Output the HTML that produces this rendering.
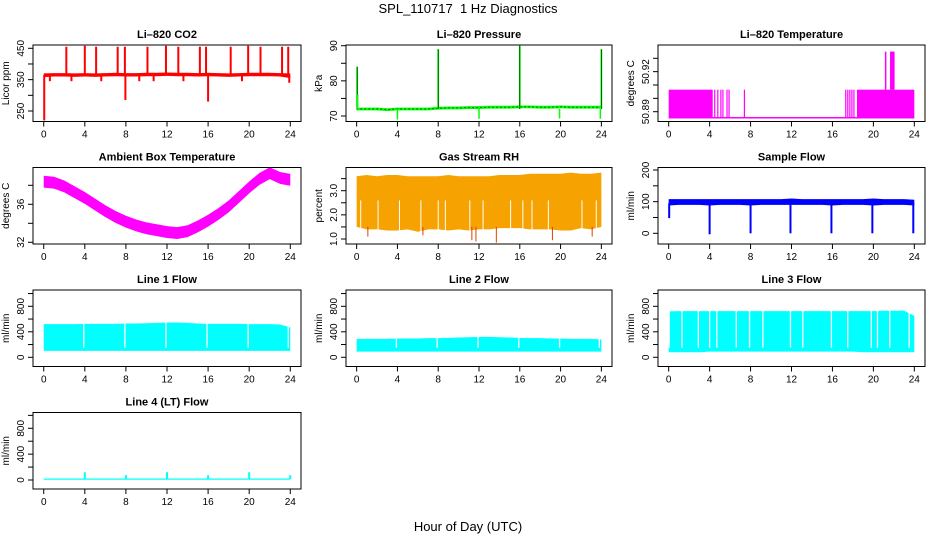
<!DOCTYPE html>
<html><head><meta charset="utf-8"><style>
html,body{margin:0;padding:0;background:#fff;}
svg{display:block;font-family:"Liberation Sans",Arial,sans-serif;}
</style></head><body>
<svg id="c" width="936" height="540" viewBox="0 0 936 540">
<text x="468" y="13" font-size="13" text-anchor="middle">SPL_110717&#160; 1 Hz Diagnostics</text>
<text x="468" y="531" font-size="13" text-anchor="middle">Hour of Day (UTC)</text>
</svg>
<script>
// ---- data ----
const hours = [0,1,2,3,4,5,6,7,8,9,10,11,12,13,14,15,16,17,18,19,20,21,22,23,24];
const xTicks = [0,4,8,12,16,20,24];
// CO2
const co2Low  = [358,360,360,359,360,359,360,361,360,360,361,361,362,361,361,360,361,360,359,360,361,361,361,360,355];
const co2High = [370,371,371,370,371,370,371,372,371,371,372,372,373,372,372,371,372,371,370,371,372,372,372,371,370];
const co2SpikeT = [2.2,4.0,5.1,7.2,7.9,10.1,11.9,13.1,15.2,15.8,18.2,19.9,21.1,23.2,23.8];
const co2SpikeV = [455,458,455,455,455,455,458,455,455,455,455,458,455,455,455];
const co2DipT = [0.05,7.95,16.0,0.6,2.7,5.6,9.3,10.7,13.6,19.3,23.9];
const co2DipV = [220,285,280,345,345,345,345,345,345,345,340];
const co2Ticks = [250,300,350,400,450];
const co2Labels = ["250","","350","","450"];
// Pressure
const presBase = [72,72,72,71.8,72,72,72,72,72.2,72.3,72.3,72.4,72.4,72.5,72.5,72.5,72.6,72.6,72.5,72.5,72.6,72.5,72.5,72.5,72.5];
const presSpikeT = [0.05,8.0,16.0,24.0];
const presSpikeV = [84,89,90,89];
const presDipT = [4.0,12.0,19.9,23.9,0.1];
const presDipV = [69,69.2,69.3,69.2,76];
const presTicks = [70,75,80,85,90];
const presLabels = ["70","","80","","90"];
// Li-820 temperature
const tempLow = 50.8855;
const tempHigh = 50.9065;
const tempSegStart = [0,18.4];
const tempSegEnd = [4.3,24];
const tempLineT = [4.5,4.8,5.1,5.3,5.7,5.9,7.4,17.3,17.5,17.7,17.9,18.1];
const tempPeakT = [21.2,21.7,21.8,21.9,22.0];
const tempPeakV = [50.935,50.935,50.935,50.935,50.935];
const tempTicks = [50.89,50.90,50.91,50.92,50.93];
const tempLabels = ["50.89","","","50.92",""];
// Ambient box temperature
const ambMid = [38.5,38.4,38.0,37.4,36.8,36.1,35.4,34.8,34.3,33.9,33.6,33.4,33.2,33.1,33.3,33.8,34.4,35.1,35.9,36.9,37.9,38.8,39.4,38.9,38.7];
const ambTicks = [32,34,36,38];
const ambLabels = ["32","","36",""];
// Gas stream RH
const rhHigh = [3.6,3.65,3.6,3.65,3.65,3.6,3.6,3.6,3.6,3.65,3.6,3.6,3.6,3.6,3.65,3.65,3.65,3.7,3.7,3.7,3.7,3.75,3.7,3.7,3.75];
const rhLow  = [1.5,1.4,1.4,1.35,1.35,1.4,1.3,1.4,1.4,1.35,1.4,1.35,1.4,1.4,1.45,1.45,1.45,1.4,1.4,1.4,1.35,1.35,1.45,1.4,1.5];
const rhDipT = [1.1,6.5,11.3,11.7,13.7,19.2,23.1];
const rhDipV = [1.1,1.15,0.95,0.9,0.85,0.95,1.1];
const rhGapT = [0.4,2.1,4.2,6.3,8.0,8.7,11.1,12.4,15.1,16.3,17.2,18.8,22.1,23.5];
const rhTicks = [1.0,1.5,2.0,2.5,3.0,3.5];
const rhLabels = ["1.0","","2.0","","3.0",""];
// Sample flow
const sfLow  = [88,90,90,90,88,90,90,90,88,90,90,90,90,90,90,90,88,90,90,90,88,90,90,90,88];
const sfHigh = [108,108,108,108,108,108,108,108,108,108,108,108,110,108,108,108,108,108,108,108,110,108,108,108,106];
const sfDipT = [4.0,8.0,11.9,15.9,19.9,23.9,0.05];
const sfDipV = [-3,0,0,0,0,0,48];
const sfTicks = [0,50,100,150,200];
const sfLabels = ["0","","100","","200"];
// Line flows
const flowTicks = [0,200,400,600,800,1000];
const flowLabels = ["0","","400","","800",""];
const l1High = [520,520,520,520,525,525,525,525,530,530,535,540,545,545,540,530,525,525,525,525,520,520,520,515,470];
const l1Low  = [100,100,100,100,100,100,100,100,100,100,100,100,100,100,100,100,100,100,100,100,100,100,100,100,100];
const l1GapT = [3.9,7.9,11.9,15.9,19.9,23.8];
const l2High = [290,290,290,290,295,295,295,300,300,305,310,315,320,320,315,310,305,300,300,295,295,290,290,290,280];
const l2Low  = [90,90,90,90,90,90,90,90,90,90,90,90,90,90,90,90,90,90,90,90,90,90,90,90,90];
const l2GapT = [3.9,7.9,11.9,15.9,19.9,23.8];
const l3High = [720,725,725,725,725,725,725,725,725,725,725,725,725,725,725,725,725,725,725,725,725,730,730,730,650];
const l3Low  = [80,80,80,80,90,90,90,90,90,90,90,90,90,90,90,90,90,90,90,80,80,80,80,80,80];
const l3GapT = [0.05,1.3,2.9,4.0,4.7,6.6,7.9,9.2,11.9,13.1,15.9,17.5,19.8,20.4,21.6,23.5];
const l4Base = [15,15,15,15,15,15,15,15,15,15,15,15,15,15,15,15,15,15,15,15,15,15,15,15,15];
const l4SpikeT = [4.0,8.0,12.0,16.0,20.0,24.0];
const l4SpikeV = [120,75,120,75,120,75];

// ---- layout ----
const colX = [[33,301],[346,612],[658,925]];
const rowY = [[45,121.5],[167.5,244],[290,366.5],[412.5,489]];
const svg = document.getElementById('c');
const NS = 'http://www.w3.org/2000/svg';
function mk(tag, attrs, parent){const e=document.createElementNS(NS,tag);for(const k in attrs)e.setAttribute(k,attrs[k]);(parent||svg).appendChild(e);return e;}

function panel(name, col, row, title, ylab, yA, yB, ticks, labels){
  const [x0,x1]=colX[col], [y0,y1]=rowY[row];
  const g=mk('g',{});
  
  
  const w=x1-x0;
  const X=t=>x0+0.04*w+t/24*0.92*w;
  const Y=v=>yA[1]+(v-yA[0])*(yB[1]-yA[1])/(yB[0]-yA[0]);
  const clip='clip-'+name;
  const cp=mk('clipPath',{id:clip},g); mk('rect',{x:x0,y:y0,width:w,height:y1-y0},cp);
  const data=mk('g',{'clip-path':'url(#'+clip+')'},g);
  
  
  const frame=mk('rect',{x:x0,y:y0,width:w,height:y1-y0,fill:'none',stroke:'#000','stroke-width':1},g);
  
  
  const tt=mk('text',{x:(x0+x1)/2,y:y0-7,'font-size':11,'font-weight':'bold','text-anchor':'middle'},g);
  tt.textContent=title;
  
  
  const xa=mk('g',{},g);
  
  
  xTicks.forEach(t=>{
    mk('line',{x1:X(t),x2:X(t),y1:y1,y2:y1+5,stroke:'#000'},xa);
    const l=mk('text',{x:X(t),y:y1+16,'font-size':10,'text-anchor':'middle'},xa); l.textContent=t;
  });
  const ya=mk('g',{},g);
  
  
  ticks.forEach((v,i)=>{
    const yy=Y(v);
    mk('line',{x1:x0,x2:x0-5,y1:yy,y2:yy,stroke:'#000'},ya);
    if(labels[i]){const l=mk('text',{x:x0-9,y:yy,'font-size':10,'text-anchor':'middle',transform:`rotate(-90 ${x0-9} ${yy})`},ya);l.textContent=labels[i];}
  });
  const yl=mk('text',{x:x0-24,y:(y0+y1)/2,'font-size':10,'text-anchor':'middle',transform:`rotate(-90 ${x0-24} ${(y0+y1)/2})`},g);
  yl.textContent=ylab;
  
  
  return {data,X,Y};
}
function band(p,lo,hi,fill){
  let pts=hours.map((t,i)=>p.X(t)+','+p.Y(hi[i]));
  pts=pts.concat(hours.slice().reverse().map((t,j)=>{const i=hours.length-1-j;return p.X(t)+','+p.Y(lo[i]);}));
  const e=mk('polygon',{points:pts.join(' '),fill:fill},p.data);
  
  
  return e;
}
function vlines(p,ts,v0s,v1s,color,w){
  ts.forEach((t,i)=>{
    const e=mk('line',{x1:p.X(t),x2:p.X(t),y1:p.Y(v0s[i]),y2:p.Y(v1s[i]),stroke:color,'stroke-width':w||1.5},p.data);
    
    
  });
}
const rep=(v,n)=>Array(n).fill(v);

// CO2
let p=panel('co2',0,0,'Li–820 CO2','Licor ppm',[450,48.3],[250,111],co2Ticks,co2Labels);
band(p,co2Low,co2High,'#f00');
vlines(p,co2SpikeT,rep(365,co2SpikeT.length),co2SpikeV,'#f00',2);
vlines(p,co2DipT,rep(365,co2DipT.length),co2DipV,'#f00',2);

// Pressure
p=panel('pressure',1,0,'Li–820 Pressure','kPa',[90,45.7],[70,116],presTicks,presLabels);
band(p,presBase.map(v=>v-0.4),presBase.map(v=>v+0.4),'#0f0');
mk('polyline',{points:hours.map((t,i)=>p.X(t)+','+p.Y(presBase[i])).join(' '),fill:'none',stroke:'#000','stroke-width':1,'stroke-dasharray':'1 3'},p.data);
vlines(p,presSpikeT,rep(72,4),presSpikeV,'#0f0',1.8);
vlines(p,presSpikeT,rep(72,4),presSpikeV,'#000',0.6);
vlines(p,presDipT,rep(72,presDipT.length),presDipV,'#0f0',1.5);

// Li-820 temperature
p=panel('li820-temp',2,0,'Li–820 Temperature','degrees C',[50.93,58.3],[50.89,111.7],tempTicks,tempLabels);
tempSegStart.forEach((s,i)=>{
  const e=mk('rect',{x:p.X(s),y:p.Y(tempHigh),width:p.X(tempSegEnd[i])-p.X(s),height:p.Y(tempLow)-p.Y(tempHigh),fill:'#f0f'},p.data);
  
  
});
mk('line',{x1:p.X(0),x2:p.X(24),y1:p.Y(tempLow),y2:p.Y(tempLow),stroke:'#f0f','stroke-width':1.5},p.data);
vlines(p,tempLineT,rep(tempLow,tempLineT.length),rep(tempHigh,tempLineT.length),'#f0f',1.2);
vlines(p,tempPeakT,rep(tempHigh,tempPeakT.length),tempPeakV,'#f0f',1.5);

// Ambient
p=panel('ambient-temp',0,1,'Ambient Box Temperature','degrees C',[38,185.3],[32,242.3],ambTicks,ambLabels);
band(p,ambMid.map(v=>v-0.75),ambMid.map(v=>v+0.5),'#f0f');

// RH
p=panel('gas-rh',1,1,'Gas Stream RH','percent',[3.0,190.7],[1.0,239],rhTicks,rhLabels);
band(p,rhLow,rhHigh,'#f6a200');
vlines(p,rhDipT,rep(1.5,rhDipT.length),rhDipV,'#e04000',1);
vlines(p,rhGapT,rep(1.2,rhGapT.length),rep(2.6,rhGapT.length),'#fff',1);

// Sample flow
p=panel('sample-flow',2,1,'Sample Flow','ml/min',[200,170],[0,233.3],sfTicks,sfLabels);
band(p,sfLow,sfHigh,'#00f');
vlines(p,sfDipT,rep(95,sfDipT.length),sfDipV,'#00f',2);

// Line flows
function flow(name,col,row,title,hi,lo,gaps,ya,yb){
  const q=panel(name,col,row,title,'ml/min',ya,yb,flowTicks,flowLabels);
  band(q,lo,hi,'#0ff');
  vlines(q,gaps,rep(150,gaps.length),rep(900,gaps.length),'#fff',1.3);
  return q;
}
flow('line1-flow',0,2,'Line 1 Flow',l1High,l1Low,l1GapT,[800,306.3],[0,357.3]);
flow('line2-flow',1,2,'Line 2 Flow',l2High,l2Low,l2GapT,[800,306.3],[0,357.3]);
flow('line3-flow',2,2,'Line 3 Flow',l3High,l3Low,l3GapT,[800,306.3],[0,357.3]);
p=panel('line4-flow',0,3,'Line 4 (LT) Flow','ml/min',[800,428.3],[0,480],flowTicks,flowLabels);
band(p,l4Base.map(v=>v-12),l4Base.map(v=>v+8),'#0ff');
vlines(p,l4SpikeT,rep(15,l4SpikeT.length),l4SpikeV,'#0ff',2);
</script>
</body></html>
